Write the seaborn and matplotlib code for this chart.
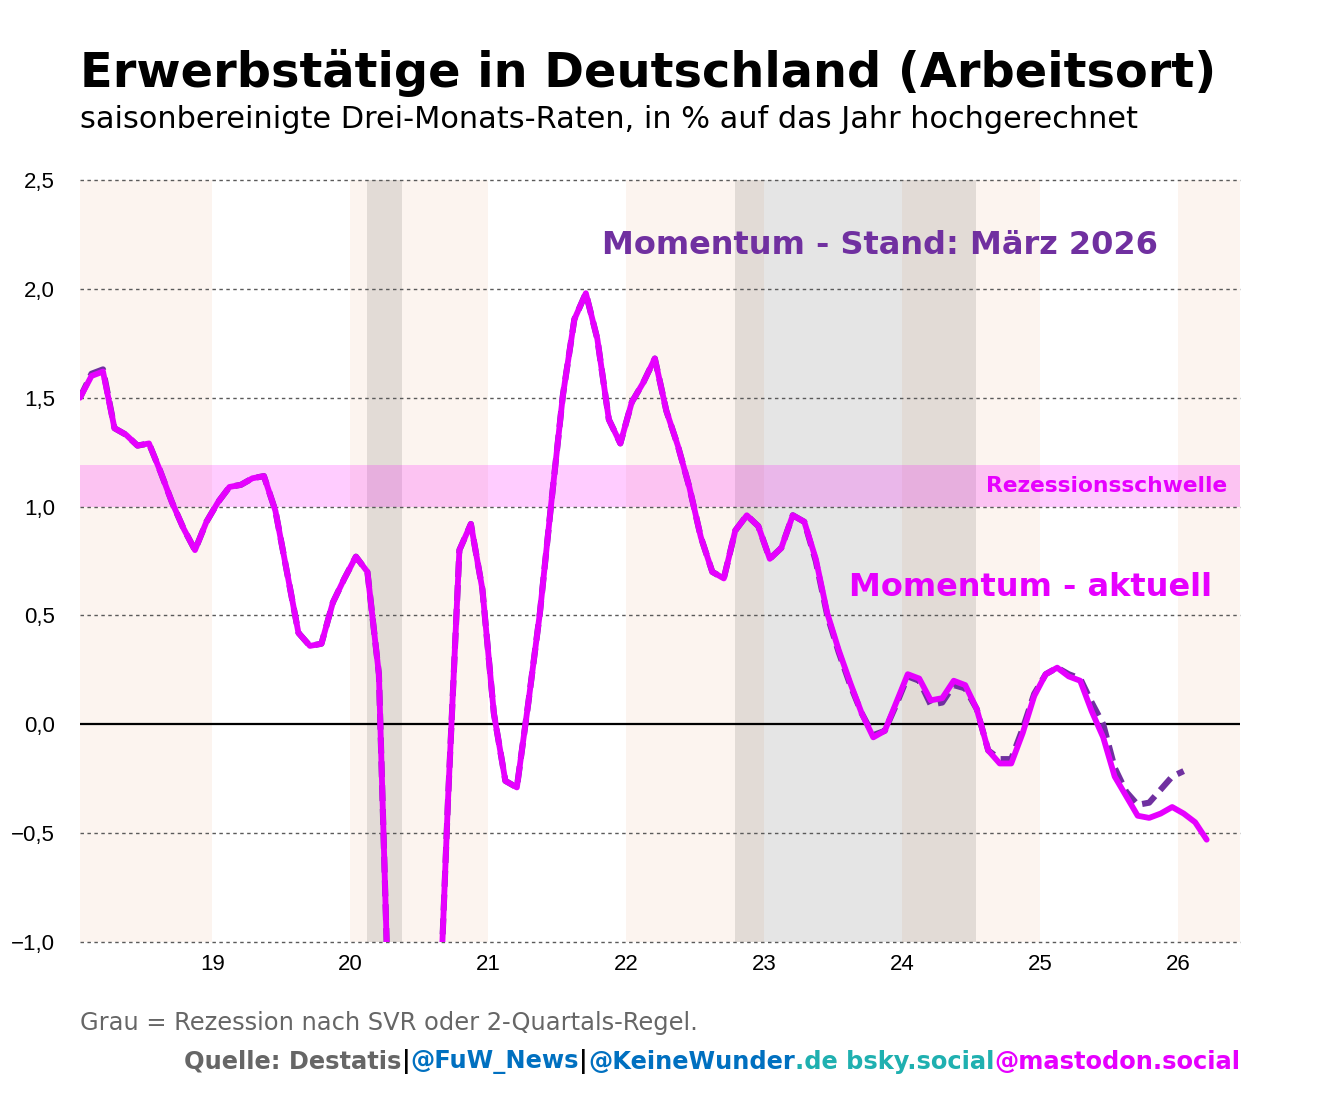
import matplotlib
matplotlib.use("Agg")
import matplotlib.pyplot as plt
import numpy as np
import pandas as pd
import seaborn as sns

# monthly three-month rates, Jan 2018 .. Mar 2026 (current release)
aktuell = [
    1.50, 1.60, 1.62, 1.36, 1.33, 1.28, 1.29, 1.16, 1.02, 0.90, 0.80, 0.93,
    1.02, 1.09, 1.10, 1.13, 1.14, 0.98, 0.70, 0.42, 0.36, 0.37, 0.56, 0.67,
    0.77, 0.70, 0.23, -1.60, -4.80, -5.90, -4.50, -1.70, -0.36, 0.80, 0.92, 0.62,
    0.05, -0.26, -0.29, 0.10, 0.51, 1.02, 1.51, 1.86, 1.98, 1.77, 1.40, 1.29,
    1.48, 1.57, 1.68, 1.44, 1.28, 1.09, 0.86, 0.70, 0.67, 0.89, 0.96, 0.91,
    0.76, 0.81, 0.96, 0.93, 0.76, 0.51, 0.34, 0.19, 0.05, -0.06, -0.03, 0.10,
    0.23, 0.21, 0.11, 0.12, 0.20, 0.18, 0.07, -0.12, -0.18, -0.18, -0.04, 0.13,
    0.23, 0.26, 0.22, 0.20, 0.06, -0.06, -0.24, -0.33, -0.42, -0.43, -0.41, -0.38,
    -0.41, -0.45, -0.53,
]
# earlier release ("Stand: März 2026"), Jan 2018 .. Jan 2026
stand = [
    1.50, 1.61, 1.63, 1.36, 1.33, 1.28, 1.29, 1.16, 1.02, 0.90, 0.80, 0.93,
    1.02, 1.09, 1.10, 1.13, 1.14, 0.98, 0.70, 0.42, 0.36, 0.37, 0.56, 0.67,
    0.77, 0.70, 0.23, -1.60, -4.80, -5.90, -4.50, -1.70, -0.36, 0.80, 0.92, 0.62,
    0.05, -0.26, -0.29, 0.10, 0.51, 1.02, 1.51, 1.86, 1.98, 1.77, 1.40, 1.29,
    1.48, 1.57, 1.68, 1.44, 1.28, 1.09, 0.86, 0.70, 0.67, 0.89, 0.96, 0.91,
    0.76, 0.81, 0.96, 0.93, 0.75, 0.50, 0.33, 0.18, 0.05, -0.05, -0.03, 0.09,
    0.22, 0.20, 0.09, 0.10, 0.18, 0.165, 0.07, -0.12, -0.16, -0.16, -0.02, 0.14,
    0.23, 0.26, 0.23, 0.21, 0.10, 0.00, -0.20, -0.31, -0.37, -0.36, -0.30, -0.24,
    -0.215,
]
start_year = 2018
year_ticks = [2019, 2020, 2021, 2022, 2023, 2024, 2025, 2026]
year_labels = ["19", "20", "21", "22", "23", "24", "25", "26"]
shaded_years = [2018, 2020, 2022, 2024, 2026]
recessions = [(2020.125, 2020.375), (2022.79, 2024.54)]
threshold = (1.0, 1.19)

def month_x(n):
    return start_year + (np.arange(n) + 0.5) / 12

df_akt = pd.DataFrame({"x": month_x(len(aktuell)), "v": aktuell})
df_stand = pd.DataFrame({"x": month_x(len(stand)), "v": stand})

sns.set_style("white")
plt.rcParams["font.family"] = ["DejaVu Sans"]
plt.rcParams["text.color"] = "black"

fig = plt.figure(figsize=(13.2, 11), dpi=100)
ax = fig.add_axes([80 / 1320, 158 / 1100, 1160 / 1320, 762 / 1100])

for y0 in shaded_years:
    ax.axvspan(y0, y0 + 1, color="#fcf4ef", lw=0, zorder=0)
for a, b in recessions:
    ax.axvspan(a, b, color="black", alpha=0.1, lw=0, zorder=0.5)
ax.axhspan(*threshold, color="#ff00ff", alpha=0.2, lw=0, zorder=0.6)

yticks = np.arange(-1.0, 2.51, 0.5)
for v in yticks:
    if abs(v) > 1e-9:
        ax.axhline(v, color="#5a5a5a", lw=1.0, ls=(0, (2.5, 2.5)), zorder=1,
                   clip_on=False)
ax.axhline(0, color="black", lw=1.6, zorder=1.5)

sns.lineplot(data=df_stand, x="x", y="v", ax=ax, color="#7030a0", lw=4.4,
             zorder=3, estimator=None)
ax.lines[-1].set_linestyle((0, (2.6, 1.3)))
sns.lineplot(data=df_akt, x="x", y="v", ax=ax, color="#e600ff", lw=4.2,
             zorder=4, estimator=None)

ax.set_xlim(start_year + 0.5 / 12, 2026.45)
ax.set_ylim(-1.0, 2.5)
ax.set_xticks(year_ticks)
ax.set_xticklabels(year_labels)
ax.set_yticks(yticks)
ax.set_yticklabels([f"{v:.1f}".replace(".", ",").replace("-", "\u2212") for v in yticks])
ax.tick_params(axis="both", length=0, labelsize=16, colors="black")
ax.tick_params(axis="y", pad=18)
ax.tick_params(axis="x", pad=9)
for lab in ax.get_xticklabels() + ax.get_yticklabels():
    lab.set_fontfamily("Liberation Sans")
for s in ax.spines.values():
    s.set_visible(False)
ax.set_xlabel("")
ax.set_ylabel("")

ax.text(2023.84, 2.20, "Momentum - Stand: März 2026", color="#7030a0",
        fontsize=23, fontweight="bold", ha="center", va="center", zorder=5)
ax.text(2024.93, 0.626, "Momentum - aktuell", color="#e600ff",
        fontsize=23, fontweight="bold", ha="center", va="center", zorder=5)
ax.text(2026.36, 1.095, "Rezessionsschwelle", color="#e600ff",
        fontsize=15.7, fontweight="bold", ha="right", va="center", zorder=5)

fig.text(80 / 1320, 1 - 73 / 1100, "Erwerbstätige in Deutschland (Arbeitsort)",
         fontsize=34.5, fontweight="bold", va="center", ha="left")
fig.text(80 / 1320, 1 - 119 / 1100,
         "saisonbereinigte Drei-Monats-Raten, in % auf das Jahr hochgerechnet",
         fontsize=21.9, va="center", ha="left")
fig.text(80 / 1320, 1 - 1023 / 1100, "Grau = Rezession nach SVR oder 2-Quartals-Regel.",
         fontsize=17.4, color="#666666", va="center", ha="left")

pieces = [("Quelle: Destatis", "#666666"), ("|", "black"), ("@FuW_News", "#0070c0"),
          ("|", "black"), ("@KeineWunder", "#0070c0"), (".de bsky.social", "#1fb0b0"),
          ("@mastodon.social", "#e600ff")]
texts = [fig.text(0, 1 - 1062 / 1100, t, color=c, fontsize=17.4, fontweight="bold",
                  va="center", ha="left") for t, c in pieces]
fig.canvas.draw()
r = fig.canvas.get_renderer()
widths = [t.get_window_extent(r).width for t in texts]
x = 1240 - sum(widths)
for t, w in zip(texts, widths):
    t.set_x(x / 1320)
    x += w

fig.savefig("out.png", dpi=100, facecolor="white")
